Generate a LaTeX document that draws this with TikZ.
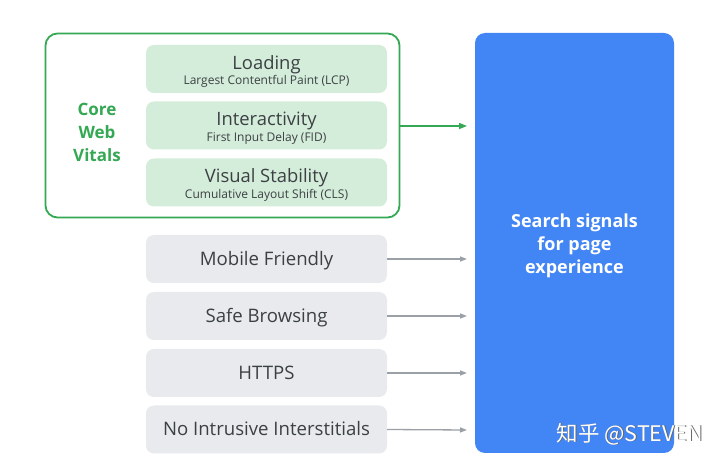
\documentclass[tikz,border=0pt]{standalone}
\usepackage{fontspec}
\setmainfont{Open Sans}
\newfontfamily\cjk{Noto Sans CJK SC}
\usetikzlibrary{arrows.meta}
\definecolor{gvgreen}{HTML}{34A853}
\definecolor{gvlight}{HTML}{D4EDDA}
\definecolor{gvgray}{HTML}{E8EAED}
\definecolor{gvtext}{HTML}{3C4043}
\definecolor{gvarrow}{HTML}{9AA0A6}
\definecolor{gvblue}{HTML}{4285F4}
\newcommand{\cwvtext}[2]{{\fontsize{18.4}{19}\selectfont #1}\\[1pt]{\fontsize{12}{12}\selectfont #2}}
\begin{document}
\begin{tikzpicture}[x=1pt,y=-1pt,
  cwv/.style={draw=none,fill=gvlight,rounded corners=8pt,minimum width=241pt,minimum height=48pt,inner sep=0pt},
  cwvlab/.style={label={[align=center,text=gvtext,yshift=-2.5pt]center:#1}},
  sig/.style={draw=none,fill=gvgray,rounded corners=8pt,minimum width=241pt,minimum height=48pt,inner sep=0pt,text height=13pt,text depth=0pt,font=\fontsize{18.6}{20}\selectfont,text=gvtext},
  garrow/.style={draw=gvarrow,line width=1.3pt,-{Triangle[length=7pt,width=5pt]}},
  grarrow/.style={draw=gvgreen,line width=1.5pt,-{Triangle[length=8pt,width=6pt]}}]
\useasboundingbox (0,0) rectangle (724,465);
\fill[white] (0,0) rectangle (724,465);
% outer green frame
\node[draw=gvgreen,line width=1.8pt,rounded corners=12pt,minimum width=354pt,minimum height=184pt,inner sep=0pt] (cwvbox) at (222.5,125.5) {};
\node[text=gvgreen,font=\bfseries\fontsize{17}{23}\selectfont,align=center] (core) at (97,132) {Core\\Web\\Vitals};
\node[cwv,cwvlab={\cwvtext{Loading}{Largest Contentful Paint (LCP)}}] (load) at (266.5,69) {};
\node[cwv,cwvlab={\cwvtext{Interactivity}{First Input Delay (FID)}}] (inter) at (266.5,125.5) {};
\node[cwv,cwvlab={\cwvtext{Visual Stability}{Cumulative Layout Shift (CLS)}}] (vis) at (266.5,182.5) {};
% gray signals
\node[sig] (mob) at (266.5,259) {Mobile Friendly};
\node[sig] (safe) at (266.5,316) {Safe Browsing};
\node[sig] (https) at (266.5,373) {HTTPS};
\node[sig] (nii) at (266.5,429.5) {No Intrusive Interstitials};
% blue box
\node[fill=gvblue,rounded corners=10pt,minimum width=199pt,minimum height=420pt,inner sep=0pt] (search) at (574.5,243) {};
\node[text=white,font=\bfseries\fontsize{18}{23}\selectfont,align=center] (stext) at (574.5,246) {Search signals\\for page\\experience};
% arrows
\coordinate (gend) at (467,126);
\coordinate (e1) at (467,259);
\coordinate (e2) at (467,316);
\coordinate (e3) at (467,373);
\coordinate (e4) at (467,430);
\draw[grarrow] (cwvbox.east |- gend) -- (gend);
\draw[garrow] (mob.east) -- (e1);
\draw[garrow] (safe.east) -- (e2);
\draw[garrow] (https.east) -- (e3);
\draw[garrow] (nii.east) -- (e4);
% watermark
\node[text=black!60,font=\cjk\fontsize{21.5}{24}\selectfont,anchor=west] (wms) at (553.8,434.8) {知乎 @STEVEN};
\node[text=white,font=\cjk\fontsize{21.5}{24}\selectfont,anchor=west] (wm) at (553,434) {知乎 @STEVEN};
\end{tikzpicture}
\end{document}
